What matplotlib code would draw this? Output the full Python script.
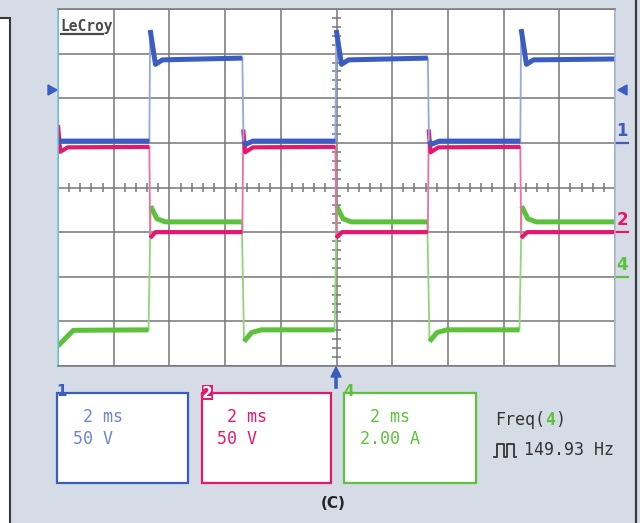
import numpy as np
import matplotlib.pyplot as plt
from matplotlib.patches import Rectangle, Polygon

# scope traces: time in ms (2 ms/div), level in divisions
blue_t = [0.00, 3.28, 3.31, 3.50, 3.75, 6.62, 6.66, 6.75, 7.00,
          9.96, 9.99, 10.18, 10.43, 13.28, 13.32, 13.41, 13.70,
          16.60, 16.63, 16.82, 17.07, 20.00]
blue_v = [1.04, 1.04, 3.53, 2.76, 2.86, 2.90, 1.04, 0.97, 1.04,
          1.04, 3.53, 2.76, 2.86, 2.90, 1.04, 0.97, 1.04,
          1.04, 3.55, 2.76, 2.86, 2.88]

pink_t = [0.00, 0.08, 0.35, 3.28, 3.31, 3.50, 6.62, 6.65, 6.72, 7.00,
          9.96, 9.99, 10.20, 13.28, 13.31, 13.38, 13.66,
          16.60, 16.63, 16.85, 20.00]
pink_v = [1.40, 0.80, 0.90, 0.91, -1.13, -1.00, -1.00, 1.30, 0.79, 0.90,
          0.91, -1.13, -1.00, -1.00, 1.30, 0.79, 0.90,
          0.91, -1.13, -1.00, -1.00]

green_t = [0.00, 0.55, 3.25, 3.33, 3.55, 3.85, 6.60, 6.68, 6.95, 7.30,
           9.93, 10.01, 10.23, 10.53, 13.26, 13.34, 13.61, 13.96,
           16.57, 16.65, 16.87, 17.17, 20.00]
green_v = [-3.55, -3.20, -3.19, -0.42, -0.70, -0.77, -0.77, -3.45, -3.25, -3.19,
           -3.19, -0.42, -0.70, -0.77, -0.77, -3.45, -3.25, -3.19,
           -3.19, -0.42, -0.70, -0.77, -0.77]

ch_labels = ["1", "2", "4"]
ch_time = [" 2 ms", " 2 ms", " 2 ms"]
ch_scale = ["50 V", "50 V", "2.00 A"]
freq_label = "Freq("
freq_channel = "4"
freq_value = "149.93 Hz"
caption = "(C)"

BG = "#d6dce6"
BLUE, BLUE_LT = "#3b5cc0", "#93a8e4"
PINK, PINK_LT = "#e5186f", "#ec6fa3"
GREEN, GREEN_LT = "#5cc23c", "#8ed775"
GRID = "#777777"
MONO = "DejaVu Sans Mono"


def flats(t, v, limit=10.0):
    # break the trace at the fast edges so they can be drawn thin
    t = np.asarray(t, float)
    v = np.asarray(v, float)
    steep = np.abs(np.diff(v) / np.diff(t)) > limit
    xs, ys = [t[0]], [v[0]]
    for i, s in enumerate(steep):
        if s:
            xs.append(np.nan)
            ys.append(np.nan)
        xs.append(t[i + 1])
        ys.append(v[i + 1])
    return xs, ys


W, H = 640, 523
fig = plt.figure(figsize=(W / 100, H / 100), dpi=100)
fig.patch.set_facecolor(BG)

# overlay in pixel coordinates for the scope furniture
ov = fig.add_axes([0, 0, 1, 1])
ov.set_xlim(0, W)
ov.set_ylim(H, 0)
ov.axis("off")
ov.add_patch(Rectangle((-5, 18), 15, 510, facecolor="white", edgecolor="#3a3a3a", lw=1.5))
ov.plot([636, 636], [0, H], color="#3a3a3a", lw=1.6)

gx0, gx1, gy0, gy1 = 58, 615, 9, 366
ax = fig.add_axes([gx0 / W, 1 - gy1 / H, (gx1 - gx0) / W, (gy1 - gy0) / H])
ax.set_facecolor("white")
ax.set_xlim(0, 20)
ax.set_ylim(-4, 4)
ax.set_xticks(np.arange(0, 21, 2))
ax.set_yticks(np.arange(-4, 5, 1))
ax.grid(True, color=GRID, lw=1.1)
ax.tick_params(length=0, labelbottom=False, labelleft=False)
for side, sp in ax.spines.items():
    sp.set_color(GRID)
    sp.set_linewidth(1.1)
ax.spines["left"].set_color("#62cbdc")
ax.spines["right"].set_color("#a9b8d8")

# centre graticule ticks
minor_x = [x for x in np.arange(0, 20.01, 0.4) if abs(x / 2 - round(x / 2)) > 1e-6]
minor_y = [y for y in np.arange(-4, 4.01, 0.2) if abs(y - round(y)) > 1e-6]
ax.vlines(minor_x, -0.09, 0.09, color=GRID, lw=1.1)
ax.hlines(minor_y, 10 - 0.16, 10 + 0.16, color=GRID, lw=1.1)

for t, v, c, lt, lw in [(green_t, green_v, GREEN, GREEN_LT, 3.6),
                        (pink_t, pink_v, PINK, PINK_LT, 3.0),
                        (blue_t, blue_v, BLUE, BLUE_LT, 3.6)]:
    ax.plot(t, v, color=lt, lw=1.3, solid_joinstyle="miter")
    fx, fy = flats(t, v)
    ax.plot(fx, fy, color=c, lw=lw, solid_capstyle="butt")

ax.text(0.1, 3.6, "LeCroy", fontsize=10.5, family=MONO, fontweight="bold",
        color="#4a4a4a", va="center", ha="left")
ax.plot([0.12, 1.62], [3.43, 3.43], color="#4a4a4a", lw=1.6)

# channel offset markers
ov.add_patch(Polygon([[48, 85], [48, 95], [57, 90]], closed=True, color=BLUE))
ov.add_patch(Polygon([[627, 85], [627, 95], [618, 90]], closed=True, color=BLUE))
for lab, ypx, col in [("1", 143, BLUE), ("2", 232, PINK), ("4", 277, GREEN)]:
    ov.text(622, ypx - 3, lab, fontsize=12, fontweight="bold", color=col,
            ha="center", va="bottom")
    ov.plot([616, 628], [ypx, ypx], color=col, lw=1.6)

# trigger marker
ov.add_patch(Polygon([[331, 377], [341, 377], [336, 367]], closed=True, color=BLUE))
ov.plot([336, 336], [376, 387], color=BLUE, lw=2.6)

# channel boxes
boxes = [(57, 188, BLUE, "#6f86cf"), (202, 331, PINK, PINK), (344, 476, GREEN, GREEN)]
text_x = [73, 217, 360]
for (x0, x1, edge, txt), lab, tx, tt, ts in zip(boxes, ch_labels, text_x, ch_time, ch_scale):
    ov.add_patch(Rectangle((x0, 393), x1 - x0, 90, facecolor="white",
                           edgecolor=edge, lw=1.6))
    if lab == "2":
        ov.add_patch(Rectangle((x0, 385), 11, 15, facecolor=edge, edgecolor="none"))
        ov.text(x0 + 5.5, 393, lab, fontsize=11, fontweight="bold", color="white",
                ha="center", va="center")
    else:
        ov.text(x0 + 5, 392, lab, fontsize=11, fontweight="bold", color=edge,
                ha="center", va="center")
    ov.text(tx, 417, tt, fontsize=12, family=MONO, color=txt, ha="left", va="center")
    ov.text(tx, 439, ts, fontsize=12, family=MONO, color=txt, ha="left", va="center")

ov.text(495, 420, freq_label, fontsize=12, family=MONO, color="#333333", ha="left", va="center")
ov.text(545, 420, freq_channel, fontsize=12, family=MONO, fontweight="bold", color=GREEN,
        ha="left", va="center")
ov.text(555, 420, ")", fontsize=12, family=MONO, color="#333333", ha="left", va="center")
pulse_x = [494, 497, 497, 504, 504, 507, 507, 514, 514, 516]
pulse_y = [457, 457, 444, 444, 457, 457, 444, 444, 457, 457]
ov.plot(pulse_x, pulse_y, color="#333333", lw=1.3)
ov.text(524, 450, freq_value, fontsize=12, family=MONO, color="#333333", ha="left", va="center")

ov.text(333, 503, caption, fontsize=11, fontweight="bold", color="#222222",
        ha="center", va="center")

fig.savefig("out.png", dpi=100, facecolor=BG)
